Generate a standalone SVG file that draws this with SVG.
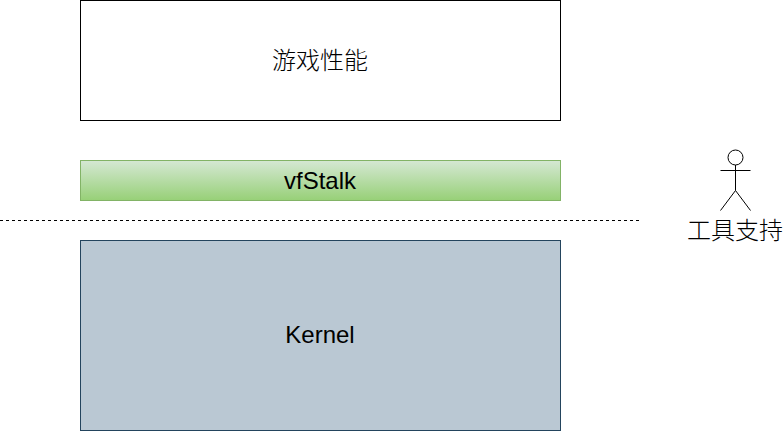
<svg xmlns="http://www.w3.org/2000/svg" width="784" height="431" viewBox="0 0 784 431">
<style>
text{font-family:"Liberation Sans","Noto Sans CJK SC",sans-serif;font-size:24px;fill:#000;text-anchor:middle}
.cjk{font-family:"Noto Sans CJK SC","Liberation Sans",sans-serif;font-weight:300}
.s{fill:none;stroke:#000;stroke-width:1}
</style>
<defs><linearGradient id="g" x1="0" y1="0" x2="0" y2="1"><stop offset="0" stop-color="#d5e8d4"/><stop offset="1" stop-color="#97d077"/></linearGradient></defs>
<rect width="784" height="431" fill="#fff"/>
<g id="perf"><rect x="80.500" y="0.500" width="480" height="120" fill="#fff" stroke="#000"/><text class="cjk" x="320" y="69">游戏性能</text></g>
<g id="vfstalk"><rect x="80.500" y="160.500" width="480" height="40" fill="url(#g)" stroke="#82b366"/><text x="320" y="189">vfStalk</text></g>
<g id="kernel"><rect x="80.500" y="240.500" width="480" height="190" fill="#bac8d3" stroke="#23445d"/><text x="320" y="343">Kernel</text></g>
<g id="connectors"><path d="M0 220.500H640" class="s" stroke-dasharray="3 3"/></g>
<g id="actor"><circle cx="735.500" cy="157.500" r="7.500" fill="#fff" stroke="#000"/><path class="s" d="M735.500 165V190.500M720.500 170.500H750.500M735.500 190.500L720.500 210.500M735.500 190.500L750.500 210.500"/><text class="cjk" x="735" y="239">工具支持</text></g>
</svg>
